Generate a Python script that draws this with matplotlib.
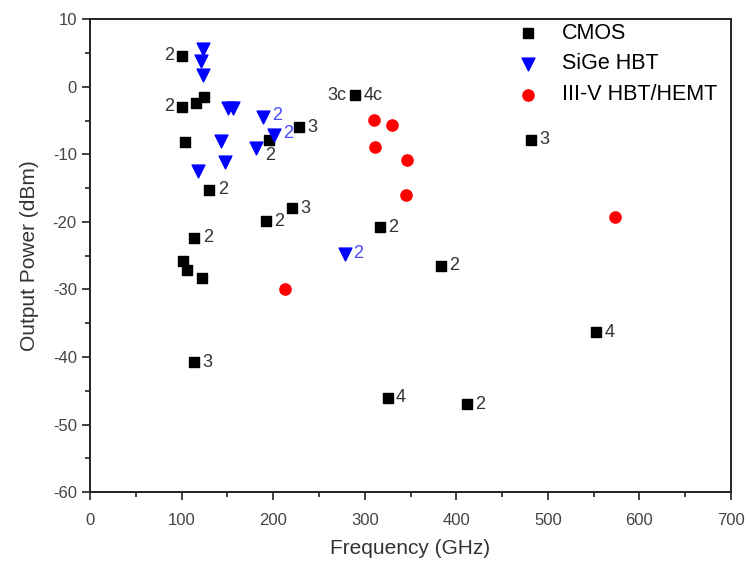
import matplotlib.pyplot as plt
from matplotlib.ticker import MultipleLocator

plt.rcParams['font.family'] = ['Liberation Sans', 'DejaVu Sans']
plt.rcParams['axes.unicode_minus'] = False

# CMOS data points (GHz, dBm) with annotation labels
cmos_f = [100.8, 100.8, 115.4, 124.8, 103.7, 130.3, 195.5, 228.0, 220.2, 191.8,
          113.9, 101.2, 106.3, 122.7, 113.9, 289.4, 316.7, 481.6, 383.3, 552.6,
          325.0, 411.3]
cmos_p = [4.6, -2.9, -2.4, -1.5, -8.1, -15.2, -7.9, -6.0, -18.0, -19.9,
          -22.3, -25.8, -27.1, -28.3, -40.8, -1.2, -20.8, -7.85, -26.5, -36.3,
          -46.0, -47.0]
cmos_lbl = ['2', '2', '', '', '', '2', '2', '3', '3', '2',
            '2', '', '', '', '3', '3c|4c', '2', '3', '2', '4',
            '4', '2']

# SiGe HBT
sige_f = [123.8, 121.2, 123.0, 151.0, 156.5, 189.3, 201.3, 181.0, 142.7, 147.4, 117.6, 278.5]
sige_p = [5.7, 3.9, 1.8, -3.1, -3.1, -4.5, -7.1, -9.1, -8.0, -11.1, -12.4, -24.8]
sige_lbl = ['', '', '', '', '', '2', '2', '', '', '', '', '2']

# III-V HBT/HEMT
iii_f = [310.5, 330.2, 311.2, 345.8, 345.1, 573.3, 213.0]
iii_p = [-4.9, -5.7, -8.9, -10.8, -16.0, -19.2, -29.9]

fig = plt.figure(figsize=(7.5, 5.63), dpi=100)
ax = fig.add_axes([0.12, 0.1261, 0.8547, 0.8393])

ax.scatter(cmos_f, cmos_p, marker='s', s=55, color='black', label='CMOS', zorder=3)
ax.scatter(sige_f, sige_p, marker='v', s=85, color='#0000ff', label='SiGe HBT', zorder=3)
ax.scatter(iii_f, iii_p, marker='o', s=65, color='#ff0000', label='III-V HBT/HEMT', zorder=3)

# annotations
fs = 13
left_idx = [0, 1]
for i, (f, p, t) in enumerate(zip(cmos_f, cmos_p, cmos_lbl)):
    if not t:
        continue
    if t == '3c|4c':
        ax.annotate('3c', (f, p), xytext=(-6, 0), textcoords='offset points',
                    ha='right', va='center', fontsize=fs, color='#333333')
        ax.annotate('4c', (f, p), xytext=(6, 0), textcoords='offset points',
                    ha='left', va='center', fontsize=fs, color='#333333')
    elif i in left_idx:
        ax.annotate(t, (f, p), xytext=(-6, 0), textcoords='offset points',
                    ha='right', va='center', fontsize=fs, color='#333333')
    elif i == 6:
        ax.annotate(t, (f, p), xytext=(1, -11), textcoords='offset points',
                    ha='center', va='center', fontsize=fs, color='#333333')
    else:
        ax.annotate(t, (f, p), xytext=(6, 0), textcoords='offset points',
                    ha='left', va='center', fontsize=fs, color='#333333')

for f, p, t in zip(sige_f, sige_p, sige_lbl):
    if t:
        ax.annotate(t, (f, p), xytext=(6, 1), textcoords='offset points',
                    ha='left', va='center', fontsize=fs, color='#4a4aff')

ax.set_xlim(0, 700)
ax.set_ylim(-60, 10)
ax.xaxis.set_major_locator(MultipleLocator(100))
ax.xaxis.set_minor_locator(MultipleLocator(50))
ax.yaxis.set_major_locator(MultipleLocator(10))
ax.yaxis.set_minor_locator(MultipleLocator(5))
ax.tick_params(which='major', direction='out', length=6, width=1.2, labelsize=12,
               labelcolor='#444444', color='#222222')
ax.tick_params(axis='x', which='major', pad=9)
ax.tick_params(which='minor', direction='out', length=3.5, width=1.2, color='#222222')
for s in ax.spines.values():
    s.set_linewidth(1.4)
    s.set_color('#222222')

ax.set_xlabel('Frequency (GHz)', fontsize=15, color='#333333', labelpad=8)
ax.set_ylabel('Output Power (dBm)', fontsize=15, color='#333333', labelpad=10)

ax.legend(loc='upper left', bbox_to_anchor=(0.667, 0.993), frameon=False,
          fontsize=15.5, handlelength=1.0, handletextpad=1.05,
          borderaxespad=0, borderpad=0, labelspacing=0.45)

fig.savefig('out.png', dpi=100)
